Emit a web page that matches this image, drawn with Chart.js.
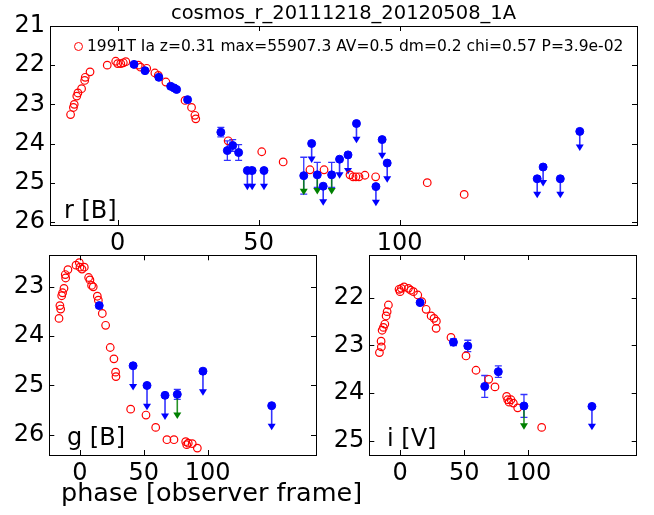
<!DOCTYPE html>
<html><head><meta charset="utf-8">
<script src="https://cdn.jsdelivr.net/npm/chart.js@4/dist/chart.umd.min.js"></script>
<style>
html,body{margin:0;padding:0;background:#fff;}
#wrap{position:relative;width:654px;height:515px;overflow:hidden;font-family:'DejaVu Sans',sans-serif;color:#000;background:#fff;}
canvas{position:absolute;left:0;top:0;}
.t{position:absolute;white-space:nowrap;line-height:1;}
</style></head><body>
<div id="wrap">
<canvas id="cR" width="654" height="515"></canvas>
<canvas id="cG" width="654" height="515"></canvas>
<canvas id="cI" width="654" height="515"></canvas>
<div class="t" style="left:50px;width:587px;top:2.5px;font-size:19.5px;text-align:center;">cosmos_r_20111218_20120508_1A</div>
<div style="position:absolute;left:73.8px;top:42.2px;width:7px;height:7px;border:1.2px solid #f00;border-radius:50%;"></div>
<div class="t" style="left:87px;top:39.2px;font-size:15.5px;">1991T Ia z=0.31 max=55907.3 AV=0.5 dm=0.2 chi=0.57 P=3.9e-02</div>
<div class="t" style="left:64px;top:197.7px;font-size:24px;">r [B]</div>
<div class="t" style="left:67px;top:424.7px;font-size:24px;">g [B]</div>
<div class="t" style="left:387px;top:425.7px;font-size:24px;">i [V]</div>
<div class="t" style="left:61px;top:479.9px;font-size:25.5px;">phase [observer frame]</div>
</div>
<script>
// ---- r band (top panel) ----
const rTmplX = [-16.7,-15.7,-15.4,-14.5,-14.1,-12.8,-11.7,-11.5,-9.8,-3.7,-0.7,0,1.1,2,2.9,7.3,8.1,10.3,13.2,14.4,17.1,23.9,26.2,27.4,27.7,39.2,51.1,58.7,68.2,73.2,82.4,83.5,84.5,85.6,87.7,91.5,109.8,122.9];
const rTmplY = [23.26,23.08,23.0,22.79,22.71,22.6,22.39,22.31,22.17,22.0,21.9,21.96,21.96,21.94,21.91,22.0,22.05,22.08,22.2,22.26,22.43,22.9,23.08,23.28,23.37,23.93,24.21,24.47,24.67,24.67,24.80,24.85,24.85,24.85,24.81,24.85,25.0,25.3];
const rDetX = [5.8,9.7,14.6,18.8,20.0,20.9,24.8,36.6,38.9,40.8,42.9,66.0,70.8,75.9];
const rDetY = [21.98,22.14,22.31,22.54,22.58,22.62,22.88,23.71,24.18,24.05,24.23,24.82,24.80,24.80];
const rDetErr = [0.03,0.03,0.03,0.03,0.03,0.03,0.03,0.12,0.25,0.15,0.2,0.47,0.32,0.32];
const rDetGreen = [0,0,0,0,0,0,0,0,0,0,0,1,1,1];
const rLimX = [46.0,47.7,51.9,68.8,72.9,78.7,81.7,84.7,91.6,93.8,95.6,148.8,150.9,157.0,163.9];
const rLimY = [24.69,24.69,24.69,24.0,25.09,24.4,24.29,23.49,25.1,23.9,24.5,24.9,24.6,24.9,23.69];
const rYTicks = [21,22,23,24,25,26];
// ---- g band (bottom left) ----
const gTmplX = [-16.4,-15.1,-15.7,-14.3,-13.6,-12.5,-11.2,-11.5,-9.4,-3.1,-0.5,0,1.6,3.4,6.8,7.8,9.1,10.4,13.6,14.4,17.5,20.1,23.7,26.6,27.9,28.2,39.7,51.7,59.3,68.1,73.6,82.8,83.6,84.8,87.9,91.9];
const gTmplY = [23.64,23.45,23.38,23.18,23.12,23.03,22.82,22.75,22.65,22.56,22.51,22.6,22.64,22.6,22.81,22.86,22.97,23.0,23.19,23.27,23.54,23.78,24.23,24.46,24.73,24.82,25.48,25.6,25.85,26.1,26.1,26.14,26.2,26.17,26.18,26.27];
const gDetX = [15.1,76.2];
const gDetY = [23.38,25.18];
const gDetErr = [0.05,0.1];
const gDetGreen = [0,1];
const gLimX = [41.6,52.5,66.6,96.3,150.1];
const gLimY = [24.6,25.0,25.2,24.71,25.41];
const gYTicks = [23,24,25,26];
// ---- i band (bottom right) ----
const iTmplX = [-16.1,-14.6,-14.8,-14.0,-13.0,-11.9,-10.9,-10.1,-9.1,-0.8,0,1,3.1,6.5,8.3,10.4,13.8,16.9,20.3,24.2,26.5,28.3,28.1,39.7,51.4,59.2,69.1,74.0,83.1,83.9,85.0,86.5,88.3,91.7,110.4];
const iTmplY = [23.15,23.03,22.91,22.68,22.62,22.55,22.38,22.29,22.15,21.82,21.87,21.8,21.77,21.8,21.84,21.87,21.94,22.08,22.24,22.38,22.43,22.49,22.64,22.83,23.22,23.52,23.71,23.87,24.07,24.14,24.19,24.14,24.21,24.31,24.72];
const iDetX = [15.6,41.6,52.8,66.0,76.6,96.6];
const iDetY = [22.1,22.93,23.01,23.86,23.55,24.27];
const iDetErr = [0.03,0.07,0.12,0.23,0.12,0.24];
const iDetGreen = [0,0,0,0,0,1];
const iLimX = [149.6];
const iLimY = [24.28];
const iYTicks = [22,23,24,25];
const xTicks = [0,50,100];
const ARROW = 0.5;

const pts = (xs, ys) => xs.map((x, k) => ({x: x, y: ys[k]}));

const decor = {
  id: 'decor',
  beforeDatasetsDraw(chart) {
    const ctx = chart.ctx, ys = chart.scales.y;
    ctx.save();
    chart.data.datasets.forEach((ds, i) => {
      const meta = chart.getDatasetMeta(i);
      if (ds.errs) {
        ctx.strokeStyle = 'rgba(0,0,255,0.8)'; ctx.lineWidth = 1.3;
        ds.data.forEach((p, j) => {
          const e = ds.errs[j]; if (!e) return;
          const x = meta.data[j].x;
          const y1 = ys.getPixelForValue(p.y - e), y2 = ys.getPixelForValue(p.y + e);
          ctx.beginPath();
          ctx.moveTo(x, y1); ctx.lineTo(x, y2);
          ctx.moveTo(x - 3.5, y1); ctx.lineTo(x + 3.5, y1);
          ctx.moveTo(x - 3.5, y2); ctx.lineTo(x + 3.5, y2);
          ctx.stroke();
        });
      }
      if (ds.arrows) {
        ds.data.forEach((p, j) => {
          const a = ds.arrows[j]; if (!a) return;
          const col = a === 2 ? '#008000' : '#0000ff';
          const x = meta.data[j].x, y0 = meta.data[j].y;
          const yt = ys.getPixelForValue(p.y + ARROW);
          ctx.strokeStyle = a === 2 ? 'rgba(0,128,0,0.85)' : 'rgba(0,0,255,0.8)';
          ctx.lineWidth = 1.6;
          ctx.beginPath(); ctx.moveTo(x, y0); ctx.lineTo(x, yt - 5); ctx.stroke();
          ctx.fillStyle = col;
          ctx.beginPath(); ctx.moveTo(x - 4, yt - 6.5); ctx.lineTo(x + 4, yt - 6.5); ctx.lineTo(x, yt); ctx.closePath(); ctx.fill();
        });
      }
    });
    ctx.restore();
  },
  afterDraw(chart) {
    const ctx = chart.ctx, a = chart.chartArea, xs = chart.scales.x, ys = chart.scales.y;
    ctx.save();
    ctx.strokeStyle = '#000'; ctx.lineWidth = 1;
    ctx.strokeRect(Math.round(a.left) + 0.5, Math.round(a.top) + 0.5, Math.round(a.right - a.left), Math.round(a.bottom - a.top));
    ctx.beginPath();
    ys.ticks.forEach(t => {
      const y = Math.round(ys.getPixelForValue(t.value)) + 0.5;
      ctx.moveTo(a.left, y); ctx.lineTo(a.left + 5, y);
      ctx.moveTo(a.right - 5, y); ctx.lineTo(a.right, y);
    });
    xs.ticks.forEach(t => {
      const x = Math.round(xs.getPixelForValue(t.value)) + 0.5;
      ctx.moveTo(x, a.bottom); ctx.lineTo(x, a.bottom - 5);
      ctx.moveTo(x, a.top); ctx.lineTo(x, a.top + 5);
    });
    ctx.stroke();
    ctx.restore();
  }
};

function makeChart(id, area, xr, yr, yTicks, tmplX, tmplY, detX, detY, detErr, detGreen, limX, limY) {
  const XH = 30;
  const font = {family: "'DejaVu Sans', sans-serif", size: 24};
  return new Chart(document.getElementById(id), {
    type: 'scatter',
    data: {datasets: [
      {data: pts(detX, detY), errs: detErr, arrows: detGreen.map(g => g ? 2 : 0),
       pointRadius: 4, pointBackgroundColor: '#0000ff', pointBorderColor: '#0000ff', pointBorderWidth: 1},
      {data: pts(limX, limY), arrows: limX.map(() => 1),
       pointRadius: 4, pointBackgroundColor: '#0000ff', pointBorderColor: '#0000ff', pointBorderWidth: 1},
      {label: '1991T Ia', data: pts(tmplX, tmplY),
       pointRadius: 3.8, pointBackgroundColor: 'rgba(0,0,0,0)', pointBorderColor: '#ff0000', pointBorderWidth: 1.2}
    ]},
    options: {
      responsive: false, animation: false, devicePixelRatio: 1,
      layout: {padding: {left: 0, top: area.t, right: 654 - area.r, bottom: 515 - area.b - XH}},
      plugins: {legend: {display: false}, tooltip: {enabled: false}, title: {display: false}},
      scales: {
        x: {type: 'linear', min: xr[0], max: xr[1],
            grid: {display: false, drawTicks: false}, border: {display: false},
            ticks: {font: font, color: '#000', padding: 4, autoSkip: false, maxRotation: 0, callback: v => String(v)},
            afterBuildTicks: s => { s.ticks = xTicks.map(v => ({value: v})); },
            afterFit: s => { s.height = XH; }},
        y: {type: 'linear', reverse: true, min: yr[0], max: yr[1],
            grid: {display: false, drawTicks: false}, border: {display: false},
            ticks: {font: font, color: '#000', padding: 5, autoSkip: false, callback: v => String(v)},
            afterBuildTicks: s => { s.ticks = yTicks.map(v => ({value: v})); },
            afterFit: s => { s.width = area.l; }}
      }
    },
    plugins: [decor]
  });
}

makeChart('cR', {l: 50, t: 26, r: 637, b: 225}, [-24, 184.2], [21.0, 26.08], rYTicks,
  rTmplX, rTmplY, rDetX, rDetY, rDetErr, rDetGreen, rLimX, rLimY);
makeChart('cG', {l: 49.3, t: 255.3, r: 316, b: 455}, [-24, 184.8], [22.36, 26.41], gYTicks,
  gTmplX, gTmplY, gDetX, gDetY, gDetErr, gDetGreen, gLimX, gLimY);
makeChart('cI', {l: 369.3, t: 255, r: 636.7, b: 455}, [-24, 184.5], [21.1, 25.3], iYTicks,
  iTmplX, iTmplY, iDetX, iDetY, iDetErr, iDetGreen, iLimX, iLimY);
</script>
</body></html>
